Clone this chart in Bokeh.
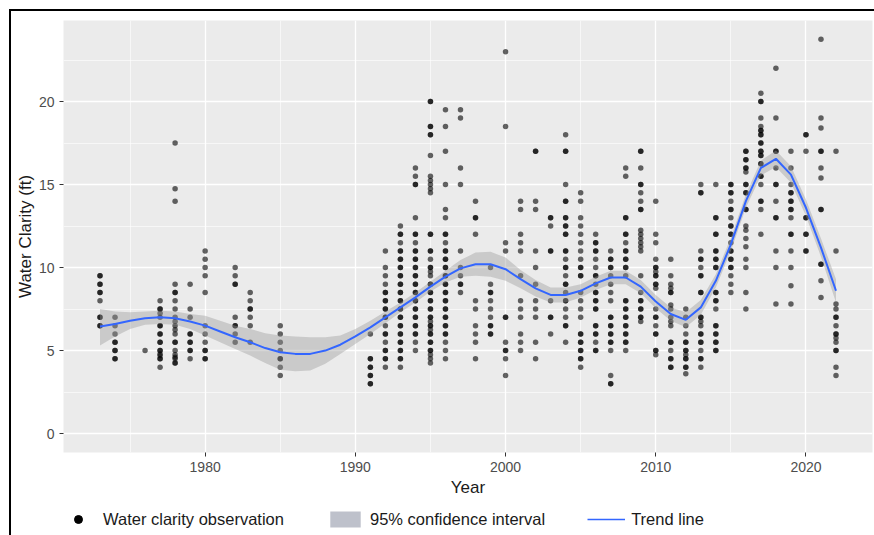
from bokeh.plotting import figure
from bokeh.layouts import column
from bokeh.models import ColumnDataSource, Legend, LegendItem, FixedTicker, Range1d
from bokeh.embed import file_html
from bokeh.resources import INLINE

# ---- observations (ft), one list per sampled year ----
obs_years = [1973, 1974, 1976, 1977, 1978, 1979, 1980, 1982, 1983, 1985,
             1991, 1992, 1993, 1994, 1995, 1996, 1997, 1998, 1999, 2000,
             2001, 2002, 2003, 2004, 2005, 2006, 2007, 2008, 2009, 2010,
             2011, 2012, 2013, 2014, 2015, 2016, 2017, 2018, 2019, 2020,
             2021, 2022]
obs_values = [
    [9.5, 9.5, 9.0, 9.0, 8.5, 8.5, 8.0, 7.0, 7.0, 6.5, 6.5],
    [7.0, 6.5, 6.0, 5.5, 5.5, 5.0, 5.0, 4.5, 4.5],
    [5.0],
    [8.0, 7.5, 7.5, 7.25, 7.0, 6.5, 6.5, 6.0, 6.0, 5.5, 5.5, 5.0, 5.0, 4.8, 4.7, 4.5, 4.5, 4.0],
    [17.5, 14.75, 14.0, 9.0, 8.5, 8.5, 8.0, 7.5, 7.0, 6.75, 6.5, 6.25, 6.0, 5.5, 5.5, 5.0, 4.75, 4.6, 4.5, 4.25, 4.25],
    [9.0, 7.5, 7.0, 6.0, 6.0, 5.5, 5.5, 5.0, 5.0, 4.5],
    [11.0, 10.5, 10.0, 9.5, 8.5, 6.5, 6.0, 5.5, 5.0, 5.0, 4.5, 4.5],
    [10.0, 9.5, 9.0, 9.0, 7.0, 6.5, 6.5, 6.0, 5.5],
    [8.5, 8.0, 7.5, 7.5, 7.0, 6.5, 5.5],
    [6.5, 6.0, 5.5, 5.0, 4.5, 4.5, 4.0, 3.5],
    [6.0, 4.5, 4.5, 4.0, 4.0, 3.5, 3.5, 3.0, 3.0],
    [11.0, 10.0, 9.5, 9.0, 8.5, 8.5, 8.0, 8.0, 7.5, 7.5, 7.0, 7.0, 6.5, 6.0, 6.0, 5.5, 5.0, 5.0, 4.5, 4.5, 4.0],
    [12.5, 12.0, 12.0, 11.5, 11.0, 11.0, 10.5, 10.5, 10.0, 10.0, 9.5, 9.5, 9.0, 9.0, 8.5, 8.5, 8.0, 8.0,
     7.5, 7.5, 7.0, 7.0, 6.5, 6.5, 6.0, 6.0, 5.5, 5.5, 5.0, 5.0, 4.5, 4.5, 4.0],
    [16.0, 15.5, 15.0, 15.0, 13.0, 12.0, 12.0, 11.5, 11.0, 11.0, 10.5, 10.5, 10.0, 10.0, 9.5, 9.5, 9.0, 9.0,
     8.5, 8.5, 8.0, 8.0, 7.5, 7.5, 7.0, 7.0, 6.5, 6.5, 6.0, 6.0, 5.5, 5.0],
    [20.0, 20.0, 18.5, 18.5, 18.0, 18.0, 16.75, 15.5, 15.25, 15.0, 14.75, 14.5, 12.0, 12.0, 11.0, 11.0, 10.5,
     10.0, 10.0, 9.75, 9.5, 9.0, 9.0, 8.5, 8.5, 8.0, 8.0, 7.5, 7.5, 7.0, 7.0, 6.75, 6.5, 6.5, 6.25, 6.0, 6.0,
     5.5, 5.5, 5.0, 5.0, 4.75, 4.5, 4.25],
    [19.5, 18.5, 17.0, 15.0, 13.5, 13.0, 12.0, 12.0, 11.5, 11.0, 11.0, 10.5, 10.5, 10.0, 10.0, 9.5, 9.5, 9.0,
     9.0, 8.5, 8.5, 8.0, 8.0, 7.5, 7.5, 7.0, 7.0, 6.5, 6.5, 6.0, 6.0, 5.5, 5.0, 4.5],
    [19.5, 19.0, 16.0, 15.0, 11.0, 10.0, 9.5, 9.0, 9.0, 8.5],
    [14.0, 13.0, 13.0, 12.0, 8.0, 7.5, 6.5, 6.0, 5.5, 4.5],
    [10.0, 9.0, 8.5, 8.5, 8.0, 7.5, 7.0, 6.5, 6.5, 6.0, 6.0],
    [23.0, 18.5, 11.5, 11.0, 7.0, 7.0, 5.5, 5.0, 5.0, 4.5, 3.5],
    [14.0, 13.5, 12.0, 11.5, 11.0, 9.5, 8.0, 7.5, 7.0, 6.0, 5.5, 5.0],
    [17.0, 17.0, 14.0, 13.5, 11.0, 10.0, 9.0, 8.0, 7.5, 7.0, 5.5, 4.5],
    [13.0, 13.0, 12.5, 11.0, 11.0, 8.0, 7.0, 7.0, 6.0],
    [18.0, 17.0, 17.0, 15.0, 14.0, 14.0, 13.0, 13.0, 12.5, 12.5, 12.0, 12.0, 11.0, 11.0, 10.5, 10.0, 10.0,
     9.5, 9.0, 9.0, 8.5, 8.0, 8.0, 7.5, 7.0, 6.5, 6.5, 5.5],
    [14.5, 14.0, 13.0, 12.5, 12.0, 11.5, 11.0, 10.5, 10.0, 10.0, 9.5, 9.5, 8.5, 8.0, 7.5, 7.0, 6.0, 6.0,
     5.5, 5.5, 5.0, 5.0, 4.5, 4.5, 4.0],
    [12.0, 11.5, 11.5, 11.0, 11.0, 10.5, 10.0, 9.5, 9.5, 9.0, 8.5, 8.5, 8.0, 8.0, 7.5, 7.5, 6.5, 6.5, 6.0,
     6.0, 5.5, 5.0, 5.0],
    [11.0, 10.5, 10.5, 10.0, 10.0, 9.5, 9.0, 8.5, 8.0, 7.0, 7.0, 6.5, 6.5, 6.0, 6.0, 5.5, 5.5, 5.0, 3.5,
     3.0, 3.0],
    [16.0, 15.5, 13.0, 13.0, 12.0, 12.0, 11.5, 11.0, 11.0, 10.5, 10.5, 10.0, 10.0, 9.5, 8.0, 8.0, 7.5, 7.5,
     7.0, 7.0, 6.5, 6.5, 6.0, 6.0, 5.5, 5.5, 5.0],
    [17.0, 17.0, 16.0, 15.0, 15.0, 14.5, 14.0, 13.5, 13.5, 12.25, 12.0, 11.75, 11.5, 11.25, 11.0, 9.5, 8.5,
     8.0, 8.0, 7.5, 7.5, 7.0, 7.0, 6.75],
    [14.0, 12.0, 11.5, 10.5, 10.0, 10.0, 9.75, 9.5, 9.5, 9.0, 9.0, 8.75, 7.5, 7.0, 7.0, 6.5, 6.0, 6.0, 5.0,
     5.0, 4.75],
    [10.5, 9.5, 9.0, 8.75, 8.5, 8.5, 7.75, 7.5, 7.0, 6.75, 6.5, 5.5, 5.5, 5.0, 4.5, 4.5, 4.0, 4.0],
    [7.5, 7.0, 6.5, 6.0, 5.5, 5.5, 5.0, 5.0, 4.75, 4.5, 4.5, 4.0, 4.0, 3.6],
    [15.0, 14.5, 14.5, 11.0, 10.5, 10.5, 10.0, 9.5, 9.5, 8.5, 8.5, 7.0, 7.0, 6.75, 6.5, 6.0, 6.0, 5.5, 5.5,
     5.0, 4.5, 4.5, 4.0],
    [15.0, 13.0, 13.0, 12.0, 12.0, 11.0, 11.0, 10.5, 10.5, 10.0, 10.0, 8.5, 8.5, 8.0, 8.0, 7.5, 6.5, 6.5,
     6.0, 6.0, 5.5, 5.5, 5.0, 5.0],
    [15.0, 15.0, 14.5, 14.5, 14.0, 13.5, 13.5, 13.0, 12.5, 12.5, 12.0, 12.0, 11.5, 11.0, 11.0, 10.5, 10.5,
     10.0, 10.0, 9.5, 9.0, 8.5],
    [17.0, 17.0, 16.5, 16.5, 16.0, 16.0, 15.75, 15.0, 15.0, 14.5, 14.5, 13.5, 13.5, 12.5, 12.25, 11.75,
     11.25, 10.5, 10.0, 8.5, 7.5],
    [20.5, 20.0, 20.0, 19.0, 18.5, 18.25, 18.25, 18.0, 18.0, 17.5, 17.5, 17.0, 17.0, 16.75, 16.75, 16.25,
     16.25, 15.5, 15.5, 15.0, 14.0, 14.0, 13.5, 12.0],
    [22.0, 19.0, 17.0, 17.0, 16.0, 15.0, 15.0, 14.0, 13.0, 13.0, 11.0, 10.0, 7.8],
    [17.0, 16.0, 15.0, 14.5, 14.5, 14.0, 14.0, 13.5, 13.5, 13.0, 12.0, 12.0, 11.0, 10.0, 8.9, 7.8],
    [18.0, 18.0, 17.0, 13.0, 13.0, 12.0, 12.0, 11.0, 11.0],
    [23.75, 19.0, 18.4, 17.0, 17.0, 16.0, 15.4, 13.5, 13.5, 10.2, 10.2, 9.2, 8.2],
    [17.0, 11.0, 7.8, 7.5, 7.0, 7.0, 6.5, 6.0, 6.0, 5.75, 5.5, 5.0, 5.0, 4.0, 3.5],
]

# ---- smoothed trend and its 95% confidence band ----
trend_years = list(range(1973, 2023))
trend_fit = [6.45, 6.6, 6.8, 6.95, 7.0, 6.95, 6.75, 6.5, 6.15, 5.8,
             5.5, 5.15, 4.9, 4.8, 4.8, 5.0, 5.35, 5.85, 6.4, 7.0,
             7.6, 8.2, 8.85, 9.45, 9.95, 10.2, 10.2, 9.9, 9.3, 8.75,
             8.35, 8.35, 8.6, 9.05, 9.4, 9.4, 8.85, 7.95, 7.2, 6.85,
             7.6, 9.2, 11.4, 14.0, 16.0, 16.55, 15.6, 13.6, 11.2, 8.6]
ci_low = [5.3, 5.85, 6.3, 6.55, 6.6, 6.55, 6.3, 5.9, 5.5, 5.1,
          4.7, 4.25, 3.85, 3.75, 3.8, 4.2, 4.8, 5.4, 6.0, 6.65,
          7.3, 7.9, 8.55, 9.1, 9.45, 9.5, 9.45, 9.2, 8.75, 8.25,
          7.9, 7.9, 8.2, 8.65, 9.0, 9.0, 8.45, 7.55, 6.8, 6.4,
          7.15, 8.8, 11.0, 13.6, 15.55, 16.05, 15.1, 13.1, 10.65, 7.9]
ci_high = [7.5, 7.35, 7.3, 7.35, 7.4, 7.35, 7.2, 7.1, 6.8, 6.5,
           6.3, 6.05, 5.9, 5.85, 5.8, 5.8, 5.9, 6.3, 6.8, 7.35,
           7.9, 8.5, 9.15, 9.8, 10.45, 10.9, 10.95, 10.6, 9.85, 9.25,
           8.8, 8.8, 9.0, 9.45, 9.8, 9.8, 9.25, 8.35, 7.6, 7.3,
           8.05, 9.6, 11.8, 14.4, 16.45, 17.05, 16.1, 14.1, 11.75, 9.3]

x_ticks = [1980, 1990, 2000, 2010, 2020]
x_minor = [1975, 1985, 1995, 2005, 2015]
y_ticks = [0, 5, 10, 15, 20]
y_minor = [2.5, 7.5, 12.5, 17.5, 22.5]

legend_labels = ["Water clarity observation", "95% confidence interval", "Trend line"]

pts_x, pts_y = [], []
for yr, vals in zip(obs_years, obs_values):
    for v in vals:
        pts_x.append(yr)
        pts_y.append(v)

FONT = "Liberation Sans"

p = figure(frame_width=809, frame_height=432,
           x_range=Range1d(1970.57, 2024.43), y_range=Range1d(-1.14, 24.88),
           output_backend="svg", toolbar_location=None,
           min_border_left=52, min_border_right=2, min_border_top=9, min_border_bottom=55,
           background_fill_color="#EBEBEB", border_fill_color="white")
p.outline_line_color = None

p.xaxis.ticker = FixedTicker(ticks=x_ticks, minor_ticks=x_minor)
p.yaxis.ticker = FixedTicker(ticks=y_ticks, minor_ticks=y_minor)
for g in (p.xgrid, p.ygrid):
    g.grid_line_color = "white"
    g.grid_line_width = 1.3
    g.minor_grid_line_color = "white"
    g.minor_grid_line_width = 0.6

for ax in (p.xaxis, p.yaxis):
    ax.axis_line_color = None
    ax.major_tick_line_color = "#333333"
    ax.major_tick_in = 0
    ax.major_tick_out = 4
    ax.minor_tick_line_color = None
    ax.major_label_text_color = "#4D4D4D"
    ax.major_label_text_font = FONT
    ax.major_label_text_font_size = "14px"
    ax.axis_label_text_font = FONT
    ax.axis_label_text_font_size = "17px"
    ax.axis_label_text_font_style = "normal"
    ax.axis_label_text_color = "#1A1A1A"
p.xaxis.axis_label = "Year"
p.yaxis.axis_label = "Water Clarity (ft)"
p.xaxis.major_label_standoff = 5
p.xaxis.axis_label_standoff = 3
p.yaxis.major_label_standoff = 5
p.yaxis.axis_label_standoff = 1

src = ColumnDataSource(data=dict(x=pts_x, y=pts_y))
p.scatter("x", "y", source=src, size=5.5, fill_color="black", fill_alpha=0.6, line_color=None)

band_src = ColumnDataSource(data=dict(x=trend_years, lo=ci_low, hi=ci_high, fit=trend_fit))
p.varea(x="x", y1="lo", y2="hi", source=band_src, fill_color="#999999", fill_alpha=0.4)
p.line(x="x", y="fit", source=band_src, line_color="#3366FF", line_width=2)

# ---- legend strip underneath; its swatch renderers use the same sources,
# ---- which lie outside this strip's ranges so only the legend shows ----
lg = figure(width=863, height=28, x_range=Range1d(0, 1), y_range=Range1d(0, 1),
            output_backend="svg", toolbar_location=None,
            x_axis_location=None, y_axis_location=None,
            min_border_left=0, min_border_right=0, min_border_top=0, min_border_bottom=0,
            background_fill_color="white", border_fill_color="white")
lg.outline_line_color = None
lg.xgrid.visible = False
lg.ygrid.visible = False

leg_dot = lg.scatter("x", "y", source=src, size=8, fill_color="black", line_color="black")
leg_box = lg.varea(x="x", y1="lo", y2="hi", source=band_src, fill_color="#BEC1CB")
leg_line = lg.line(x="x", y="fit", source=band_src, line_color="#3366FF", line_width=1.5)

legend = Legend(items=[LegendItem(label=legend_labels[0], renderers=[leg_dot]),
                       LegendItem(label=legend_labels[1], renderers=[leg_box]),
                       LegendItem(label=legend_labels[2], renderers=[leg_line])],
                orientation="horizontal", location=(-4, 6),
                glyph_width=38, glyph_height=20, label_height=20, label_standoff=6, spacing=42,
                padding=0, margin=0, border_line_color=None, background_fill_alpha=0,
                label_text_font=FONT, label_text_font_size="16.5px", label_text_color="#1A1A1A")
lg.add_layout(legend, "center")

layout = column(p, lg, spacing=0)
layout.styles = {"margin-left": "9px", "margin-top": "9px",
                 "border-top": "2px solid black", "border-left": "2px solid black"}

open("out.html", "w").write(file_html(layout, INLINE))
